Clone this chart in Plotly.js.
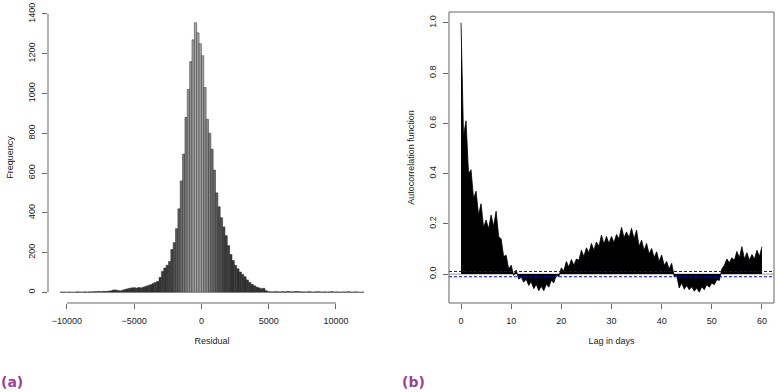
<!DOCTYPE html>
<html><head><meta charset="utf-8">
<script src="https://cdn.plot.ly/plotly-3.0.1.min.js"></script>
<style>body{margin:0;padding:0;background:#fff}#chart{width:777px;height:392px}</style>
</head><body><div id="chart"></div><script>
// ---- Panel (a): histogram of residuals ----
const binStart = -10500;
const binWidth = 175;
const residualCounts = [
 1,1,0,1,1,0,1,2,1,1, 2,1,2,2,3,3,4,3,5,4,
 6,7,11,12,9,7,10,14,17,20, 22,23,21,24,22,26,30,34,38,44,
 50,55,75,105,122,136,155,215,250,320, 420,560,695,880,1020,1160,1270,1356,1305,1250,
 1190,1030,870,800,720,615,500,430,375,329, 285,235,190,160,135,118,102,90,78,62,
 50,40,33,26,22,18,20,8,3,2, 2,3,2,2,3,2,4,3,2,3,
 4,3,2,2,1,3,2,1,2,3, 2,1,2,1,2,3,1,2,1,1,
 2,1,3,1,1,2,1,0,1
];
const residualTicks = [-10000, -5000, 0, 5000, 10000];
const freqTicks = [0, 200, 400, 600, 800, 1000, 1200, 1400];

// ---- Panel (b): autocorrelation function ----
// values at whole-day lags and at the half-day lags in between
const acfAtDays = [
 1.00,0.61,0.415,0.33,0.28,0.215,0.235,0.25,0.14,0.075,
 0.035,0.016,-0.012,-0.02,-0.03,-0.04,-0.048,-0.04,-0.025,-0.004,
 0.025,0.05,0.058,0.06,0.095,0.105,0.122,0.128,0.155,0.15,
 0.15,0.158,0.186,0.168,0.182,0.175,0.135,0.122,0.102,0.089,
 0.076,0.05,0.043,-0.005,-0.035,-0.045,-0.05,-0.055,-0.05,-0.042,
 -0.035,-0.022,0.02,0.06,0.065,0.09,0.109,0.085,0.078,0.095,
 0.109
];
const acfAtHalfDays = [
 0.55,0.40,0.30,0.235,0.185,0.18,0.19,0.15,0.07,0.02,
 -0.005,-0.02,-0.032,-0.045,-0.058,-0.066,-0.066,-0.052,-0.035,-0.01,
 0.012,0.028,0.035,0.055,0.07,0.085,0.095,0.11,0.12,0.122,
 0.125,0.14,0.145,0.145,0.14,0.11,0.095,0.08,0.065,0.05,
 0.035,0.02,-0.01,-0.055,-0.06,-0.062,-0.068,-0.072,-0.062,-0.052,
 -0.042,-0.025,0.035,0.045,0.055,0.065,0.06,0.055,0.06,0.07
];
const ciBound = 0.0105;
const lagTicks = [0, 10, 20, 30, 40, 50, 60];
const acfTicks = [0, 0.2, 0.4, 0.6, 0.8, 1.0];

// build traces
const binCenters = residualCounts.map((c, i) => binStart + (i + 0.5) * binWidth);
const barColors = binCenters.map(c => {
  const g = Math.round(50 + 120 * Math.exp(-Math.pow((c + 300) / 1400, 2)));
  return `rgb(${g},${g},${g})`;
});
const lags = [], acfVals = [];
for (let d = 0; d < acfAtDays.length; d++) {
  lags.push(d); acfVals.push(acfAtDays[d]);
  if (d < acfAtHalfDays.length) { lags.push(d + 0.5); acfVals.push(acfAtHalfDays[d]); }
}

const font = {family: 'Liberation Sans, Arial, sans-serif', size: 9, color: '#222'};
const axisCol = '#666';

const traces = [
  {type: 'bar', x: binCenters, y: residualCounts, width: binWidth,
   marker: {color: barColors, line: {color: '#2a2a2a', width: 0.5}},
   xaxis: 'x', yaxis: 'y', hoverinfo: 'x+y'},
  {type: 'scatter', mode: 'lines', x: lags, y: acfVals, fill: 'tozeroy',
   fillcolor: '#000', line: {color: '#000', width: 0.8},
   xaxis: 'x2', yaxis: 'y2'}
];

const common = {showgrid: false, zeroline: false, showline: false, ticks: 'outside',
  ticklen: 5, tickcolor: axisCol, tickwidth: 1, tickfont: font};

const layout = {
  width: 777, height: 392,
  margin: {l: 48, r: 3, t: 12, b: 89},
  paper_bgcolor: '#fff', plot_bgcolor: '#fff',
  showlegend: false, bargap: 0,
  font: font,
  xaxis: Object.assign({}, common, {domain: [0, 0.4518], range: [-11403, 12978],
    tickvals: residualTicks, ticktext: residualTicks.map(v => v < 0 ? '\u2212' + Math.abs(v) : String(v)),
    ticklabelstandoff: 4,
    title: {text: 'Residual', font: font, standoff: 12}}),
  yaxis: Object.assign({}, common, {domain: [0, 1], range: [-54, 1410],
    tickvals: freqTicks, tickangle: -90, ticklabelstandoff: 3,
    title: {text: 'Frequency', font: font, standoff: 12}}),
  xaxis2: Object.assign({}, common, {domain: [0.5523, 1], range: [-2.4, 62.4],
    tickvals: lagTicks, ticklabelstandoff: 4,
    title: {text: 'Lag in days', font: font, standoff: 12}}),
  yaxis2: Object.assign({}, common, {domain: [0, 1], range: [-0.115, 1.043], anchor: 'x2',
    tickvals: acfTicks, ticktext: acfTicks.map(v => v.toFixed(1)), tickangle: -90, ticklabelstandoff: 3,
    title: {text: 'Autocorrelation function', font: font, standoff: 12}}),
  shapes: [
    {type: 'line', xref: 'x domain', yref: 'y', x0: 0, x1: 0, y0: freqTicks[0], y1: freqTicks[freqTicks.length - 1], line: {color: axisCol, width: 1}},
    {type: 'line', xref: 'x', yref: 'y domain', x0: residualTicks[0], x1: residualTicks[residualTicks.length - 1], y0: 0, y1: 0, line: {color: axisCol, width: 1}},
    {type: 'line', xref: 'x2 domain', yref: 'y2', x0: 0, x1: 1, y0: 0, y1: 0, line: {color: '#999', width: 1}, layer: 'below'},
    {type: 'line', xref: 'x2 domain', yref: 'y2', x0: 0, x1: 1, y0: ciBound, y1: ciBound, line: {color: '#0000ff', width: 1, dash: '3px,2px'}},
    {type: 'line', xref: 'x2 domain', yref: 'y2', x0: 0, x1: 1, y0: -ciBound, y1: -ciBound, line: {color: '#0000ff', width: 1, dash: '3px,2px'}},
    {type: 'rect', xref: 'x2 domain', yref: 'y2 domain', x0: 0, x1: 1, y0: 0, y1: 1, line: {color: axisCol, width: 1}}
  ],
  annotations: [
    {text: '<b>(a)</b>', xref: 'paper', yref: 'paper', x: -0.0496, y: -0.2715, xanchor: 'center', yanchor: 'middle', showarrow: false,
     font: {family: 'DejaVu Sans, sans-serif', size: 14, color: '#9c3f9a'}},
    {text: '<b>(b)</b>', xref: 'paper', yref: 'paper', x: 0.5028, y: -0.2715, xanchor: 'center', yanchor: 'middle', showarrow: false,
     font: {family: 'DejaVu Sans, sans-serif', size: 14, color: '#9c3f9a'}}
  ]
};
Plotly.newPlot('chart', traces, layout, {displayModeBar: false, staticPlot: true});
</script></body></html>
